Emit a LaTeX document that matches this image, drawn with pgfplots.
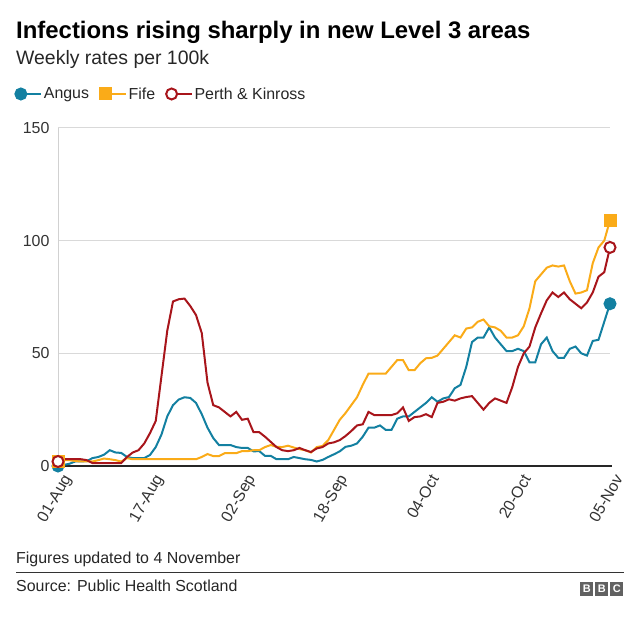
\documentclass[border=0pt]{standalone}
\usepackage{pgfplots}
\usepackage{pgfplotstable}
\pgfplotsset{compat=1.18}
\usepackage{fontspec}
\setmainfont{Liberation Sans}
\definecolor{angus}{HTML}{1380A1}
\definecolor{fife}{HTML}{FAAB18}
\definecolor{perth}{HTML}{A8151B}
\pgfplotstableread{
day angus fife perth
0 0 2 2
1 0.5 2.6 3
2 1 2.6 3
3 2 2.2 3
4 2 2 3
5 2.2 2 2.6
6 3.5 2 1.3
7 4 2.6 1.3
8 5 3.3 1.3
9 7 3 1.3
10 6 2.6 1.3
11 5.8 2 1.3
12 4 3.5 4
13 3.5 3 6
14 3.5 3 7
15 3.5 3 10
16 4.9 3 14.6
17 8.4 3 20
18 14 3 40
19 22 3 60
20 27 3 73
21 29.5 3 74
22 30.5 3 74.3
23 30.2 3 71
24 28 3 67
25 23 4 59
26 17 5.3 37
27 12.4 4.4 27
28 9.3 4.4 26
29 9.3 5.7 24
30 9.3 5.7 22
31 8.4 5.7 24
32 8 6.6 20.5
33 8 6.6 21
34 6.5 7 15
35 6.6 7 15
36 4.5 8.4 13
37 4.5 9.3 10.7
38 3 8.5 8.4
39 3 8.4 7
40 3 9 6.6
41 4 8.2 7
42 3.5 7.5 8
43 3 7 7
44 2.7 6 6.2
45 2 8.4 7.8
46 2.7 8.9 8.4
47 4 11.5 10
48 5.2 16 10.5
49 6.5 20.5 11.5
50 8.5 23.5 13.3
51 9 27 15.5
52 10 30.5 18
53 13 36 18.5
54 17 41 24
55 17 41 22.6
56 18 41 22.6
57 16 41 22.6
58 16 44 22.6
59 21 47 23.4
60 22 47 26
61 22 42.5 20
62 24 42.5 21.7
63 26 45.6 22
64 28 47.8 23
65 30.5 48 21.7
66 28.5 49 28
67 30 52 28.5
68 30.6 55 29.6
69 34.5 58 29
70 36 57 30
71 44 61 30.6
72 55 61.5 31
73 57 64 28
74 57 65 25
75 61.5 62 28
76 57 61.5 30
77 54 60 29
78 51 57 28
79 51 57 35
80 52 58 44
81 51 62 50
82 46 70 53
83 46 82 61.5
84 54 85 67.7
85 57 88 73.5
86 51 89 77
87 48 88.5 75
88 48 89 77
89 52 82 74
90 53 76.5 72
91 50 77 70
92 49 78 72.6
93 55.5 90 77
94 56 97 84
95 64 100 86
96 72 109 97
}\datatable
\begin{document}
\begin{tikzpicture}[x=1bp,y=1bp]
\path[use as bounding box] (0,0) rectangle (640,617);
\node[anchor=base west, inner sep=0, font=\bfseries\fontsize{24}{28}\selectfont] at (16,617-39) {Infections rising sharply in new Level 3 areas};
\node[anchor=base west, inner sep=0, font=\fontsize{19.5}{23}\selectfont, text=black!85] at (16,617-65) {Weekly rates per 100k};
\begin{axis}[
  at={(58bp,151bp)}, anchor=south west, scale only axis,
  width=552bp, height=338bp,
  xmin=0, xmax=96, ymin=0, ymax=150,
  clip=false,
  axis line style={draw=none},
  major tick length=0pt,
  ymajorgrids, grid style={black!15, line width=1bp},
  ytick={0,50,100,150},
  xtick={0,16,32,48,64,80,96},
  xticklabels={01-Aug,17-Aug,02-Sep,18-Sep,04-Oct,20-Oct,05-Nov},
  /pgf/number format/assume math mode=true,
  tick label style={font=\fontsize{16}{19}\selectfont, text=black!80},
  yticklabel style={xshift=-5bp},
  xticklabel style={xshift=3bp, yshift=-4bp, rotate=60, anchor=north east, inner sep=2bp},
  legend style={at={(-0.083,1.1006)}, anchor=west, draw=none, fill=none,
    font=\fontsize{16}{19}\selectfont, text=black!85,
    /tikz/every even column/.append style={column sep=9bp}},
  legend columns=3,
  legend cell align=left,
  legend image code/.code={\draw[mark repeat=2,mark phase=2] plot coordinates {(0bp,0bp) (10bp,0bp) (20bp,0bp)};},
]
\draw[black!18, line width=1bp] (rel axis cs:0,0) -- (rel axis cs:0,1);
\draw[black!85, line width=2.2bp] (rel axis cs:0,0) -- (rel axis cs:1.004,0);
\addplot[angus, line width=2bp, mark=*, mark indices={1,97}, mark size=5.5bp, mark options={solid}] table[x=day,y=angus] {\datatable};
\addlegendentry{Angus}
\addplot[fife, line width=2bp, mark=square*, mark indices={1,97}, mark size=5.5bp, mark options={solid}] table[x=day,y=fife] {\datatable};
\addlegendentry{Fife}
\addplot[perth, line width=2bp, mark=*, mark indices={1,97}, mark size=5.5bp, mark options={solid, fill=white, line width=2bp}] table[x=day,y=perth] {\datatable};
\addlegendentry{Perth \& Kinross}
\end{axis}
\node[anchor=base west, inner sep=0, font=\fontsize{16}{19}\selectfont, text=black!85] at (16,617-564) {Figures updated to 4 November};
\draw[black!80, line width=1bp] (16,617-572.5) -- (624,617-572.5);
\node[anchor=base west, inner sep=0, font=\fontsize{16}{19}\selectfont, text=black!85] at (16,617-592) {Source: Public Health Scotland};
\foreach \i/\l in {0/B,1/B,2/C} {
  \node[anchor=north west, fill=black!62, text=white, minimum width=13bp, minimum height=14bp, inner sep=0,
    font=\bfseries\fontsize{11}{11}\selectfont] at (580+\i*15,617-582) {\l};
}
\end{tikzpicture}
\end{document}
